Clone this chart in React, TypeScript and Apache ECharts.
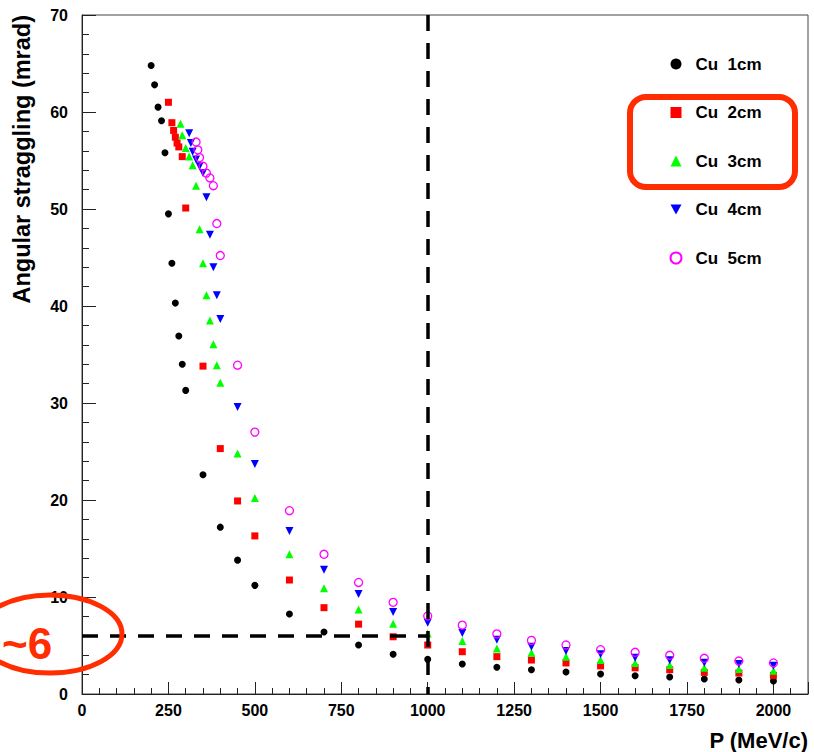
import React, { useEffect, useRef } from 'react';
import * as echarts from 'echarts';

// P (MeV/c) values and angular straggling (mrad) for each Cu thickness
const p1 = [200, 210, 220, 230, 240, 250, 260, 270, 280, 290, 300, 350, 400, 450, 500, 600, 700, 800, 900, 1000, 1100, 1200, 1300, 1400, 1500, 1600, 1700, 1800, 1900, 2000];
const cu1 = [64.8, 62.8, 60.5, 59.1, 55.8, 49.5, 44.4, 40.3, 36.9, 34.0, 31.3, 22.6, 17.2, 13.8, 11.2, 8.25, 6.4, 5.05, 4.1, 3.57, 3.1, 2.75, 2.5, 2.27, 2.06, 1.89, 1.75, 1.55, 1.44, 1.34];

const p2 = [250, 260, 265, 270, 275, 280, 290, 300, 350, 400, 450, 500, 600, 700, 800, 900, 1000, 1100, 1200, 1300, 1400, 1500, 1600, 1700, 1800, 1900, 2000];
const cu2 = [61.0, 58.9, 58.1, 57.4, 56.8, 56.4, 55.4, 50.1, 33.8, 25.3, 19.9, 16.3, 11.75, 8.9, 7.2, 5.9, 5.05, 4.36, 3.85, 3.5, 3.2, 2.9, 2.7, 2.5, 2.23, 2.16, 1.92];

const p3 = [285, 290, 300, 310, 320, 330, 340, 350, 360, 370, 380, 390, 400, 450, 500, 600, 700, 800, 900, 1000, 1100, 1200, 1300, 1400, 1500, 1600, 1700, 1800, 1900, 2000];
const cu3 = [58.8, 57.6, 56.3, 55.4, 54.5, 52.4, 47.9, 44.4, 41.1, 38.5, 36.05, 33.9, 32.1, 24.8, 20.2, 14.4, 10.9, 8.7, 7.25, 6.25, 5.46, 4.7, 4.26, 3.85, 3.5, 3.2, 3.0, 2.7, 2.58, 2.4];

const p4 = [310, 315, 320, 330, 340, 350, 360, 370, 380, 390, 400, 450, 500, 600, 700, 800, 900, 1000, 1100, 1200, 1300, 1400, 1500, 1600, 1700, 1800, 1900, 2000];
const cu4 = [57.8, 56.8, 55.9, 55.1, 54.4, 53.7, 51.2, 47.35, 44.0, 41.1, 38.66, 29.6, 23.7, 16.8, 12.8, 10.3, 8.45, 7.35, 6.3, 5.6, 4.88, 4.43, 4.09, 3.74, 3.47, 3.23, 3.09, 2.92];

const p5 = [330, 335, 340, 350, 360, 370, 380, 390, 400, 450, 500, 600, 700, 800, 900, 1000, 1100, 1200, 1300, 1400, 1500, 1600, 1700, 1800, 1900, 2000];
const cu5 = [56.9, 56.1, 55.3, 54.4, 53.7, 53.2, 52.4, 48.5, 45.2, 33.9, 27.0, 18.9, 14.4, 11.5, 9.45, 8.04, 7.1, 6.2, 5.53, 5.05, 4.57, 4.3, 3.99, 3.68, 3.4, 3.2];

const seriesNames = ['Cu  1cm', 'Cu  2cm', 'Cu  3cm', 'Cu  4cm', 'Cu  5cm'];

// reference lines: P = 1000 MeV/c and straggling ~ 6 mrad
const refP = 1000;
const refTheta = 6;

const xTicks = { min: 0, max: 2100, interval: 250 };
const yTicks = { min: 0, max: 70, interval: 10 };

const FONT = '"Liberation Sans", Arial, Helvetica, sans-serif';
const ANNOT = '#ff2d00';

function zip(xs: number[], ys: number[]) {
  return xs.map((x, i) => [x, ys[i]]);
}

export default function App() {
  const ref = useRef<HTMLDivElement>(null);

  useEffect(() => {
    if (!ref.current) return;
    const chart = echarts.init(ref.current, undefined, { renderer: 'svg' });

    const base = (name: string, data: number[][], symbol: string, color: string, extra: any = {}) => ({
      type: 'scatter',
      name,
      data,
      symbol,
      symbolSize: 7,
      itemStyle: { color, opacity: 1 },
      emphasis: { disabled: true },
      z: 3,
      ...extra,
    });

    const option: any = {
      animation: false,
      backgroundColor: '#fff',
      grid: {
        left: 82,
        right: 6,
        top: 15,
        bottom: 58,
        show: true,
        borderColor: '#444',
        borderWidth: 1,
        backgroundColor: 'transparent',
      },
      xAxis: {
        type: 'value',
        min: xTicks.min,
        max: xTicks.max,
        interval: xTicks.interval,
        axisLine: { show: true, lineStyle: { color: '#222', width: 1 } },
        axisTick: { show: true, inside: true, length: 12, lineStyle: { color: '#222' } },
        minorTick: { show: true, splitNumber: 5, length: 6, lineStyle: { color: '#222' } },
        splitLine: { show: false },
        axisLabel: {
          color: '#000',
          fontFamily: FONT,
          fontWeight: 'bold',
          fontSize: 16,
          margin: 8,
          formatter: (v: number) => (v > 2000 ? '' : String(v)),
        },
      },
      yAxis: {
        type: 'value',
        min: yTicks.min,
        max: yTicks.max,
        interval: yTicks.interval,
        axisLine: { show: true, lineStyle: { color: '#222', width: 1 } },
        axisTick: { show: true, inside: true, length: 14, lineStyle: { color: '#222' } },
        minorTick: { show: true, splitNumber: 5, length: 7, lineStyle: { color: '#222' } },
        splitLine: { show: false },
        axisLabel: {
          color: '#000',
          fontFamily: FONT,
          fontWeight: 'bold',
          fontSize: 16,
          margin: 14,
        },
      },
      legend: {
        orient: 'vertical',
        left: 664.5,
        top: 50.5,
        itemWidth: 11,
        itemHeight: 11,
        itemGap: 31.5,
        selectedMode: false,
        data: [
          { name: seriesNames[0] },
          { name: seriesNames[1] },
          { name: seriesNames[2] },
          { name: seriesNames[3], icon: 'path://M0,0L10,0L5,9Z' },
          { name: seriesNames[4] },
        ],
        textStyle: {
          color: '#000',
          fontFamily: FONT,
          fontWeight: 'bold',
          fontSize: 17,
          lineHeight: 17,
          padding: [0, 0, 0, 9],
        },
      },
      series: [
        base(seriesNames[0], zip(p1, cu1), 'circle', '#000000', {
          markLine: {
            silent: true,
            symbol: ['none', 'none'],
            label: { show: false },
            emphasis: { disabled: true },
            lineStyle: { color: '#000', width: 3.5, type: [16, 12], opacity: 1 },
            data: [
              [{ coord: [refP, yTicks.max] }, { coord: [refP, yTicks.min] }],
              [{ coord: [xTicks.min, refTheta] }, { coord: [refP, refTheta] }],
            ],
            z: 4,
          },
        }),
        base(seriesNames[1], zip(p2, cu2), 'rect', '#ff0000', { symbolSize: 7 }),
        base(seriesNames[2], zip(p3, cu3), 'triangle', '#00ff00', { symbolSize: 8 }),
        base(seriesNames[3], zip(p4, cu4), 'triangle', '#0000ff', { symbolSize: 8, symbolRotate: 180 }),
        base(seriesNames[4], zip(p5, cu5), 'circle', 'rgba(255,255,255,0)', {
          symbolSize: 8,
          itemStyle: { color: 'rgba(255,255,255,0)', borderColor: '#ff00ff', borderWidth: 1.3, opacity: 1 },
        }),
      ],
      graphic: [
        {
          type: 'text',
          x: 22,
          y: 15,
          rotation: Math.PI / 2,
          z: 100,
          style: {
            text: 'Angular straggling (mrad)',
            font: `bold 23.5px ${FONT}`,
            fill: '#000',
            textAlign: 'right',
            textVerticalAlign: 'middle',
          },
        },
        {
          type: 'text',
          x: 808,
          y: 740,
          z: 100,
          style: {
            text: 'P (MeV/c)',
            font: `bold 22px ${FONT}`,
            fill: '#000',
            textAlign: 'right',
            textVerticalAlign: 'middle',
          },
        },
        {
          type: 'rect',
          z: 100,
          shape: { x: 630, y: 97, width: 165, height: 90, r: 16 },
          style: { fill: 'none', stroke: ANNOT, lineWidth: 6 },
        },
        {
          type: 'ellipse',
          z: 100,
          shape: { cx: 50, cy: 634, rx: 72, ry: 39 },
          style: { fill: 'none', stroke: ANNOT, lineWidth: 5 },
        },
        {
          type: 'text',
          x: 2,
          y: 643,
          z: 100,
          style: {
            text: '~6',
            font: `bold 44px ${FONT}`,
            fill: ANNOT,
            textAlign: 'left',
            textVerticalAlign: 'middle',
          },
        },
      ],
    };

    chart.setOption(option);
    return () => chart.dispose();
  }, []);

  return (
    <div
      ref={ref}
      style={{ position: 'fixed', left: 0, top: 0, width: 814, height: 752, background: '#fff' }}
    />
  );
}
